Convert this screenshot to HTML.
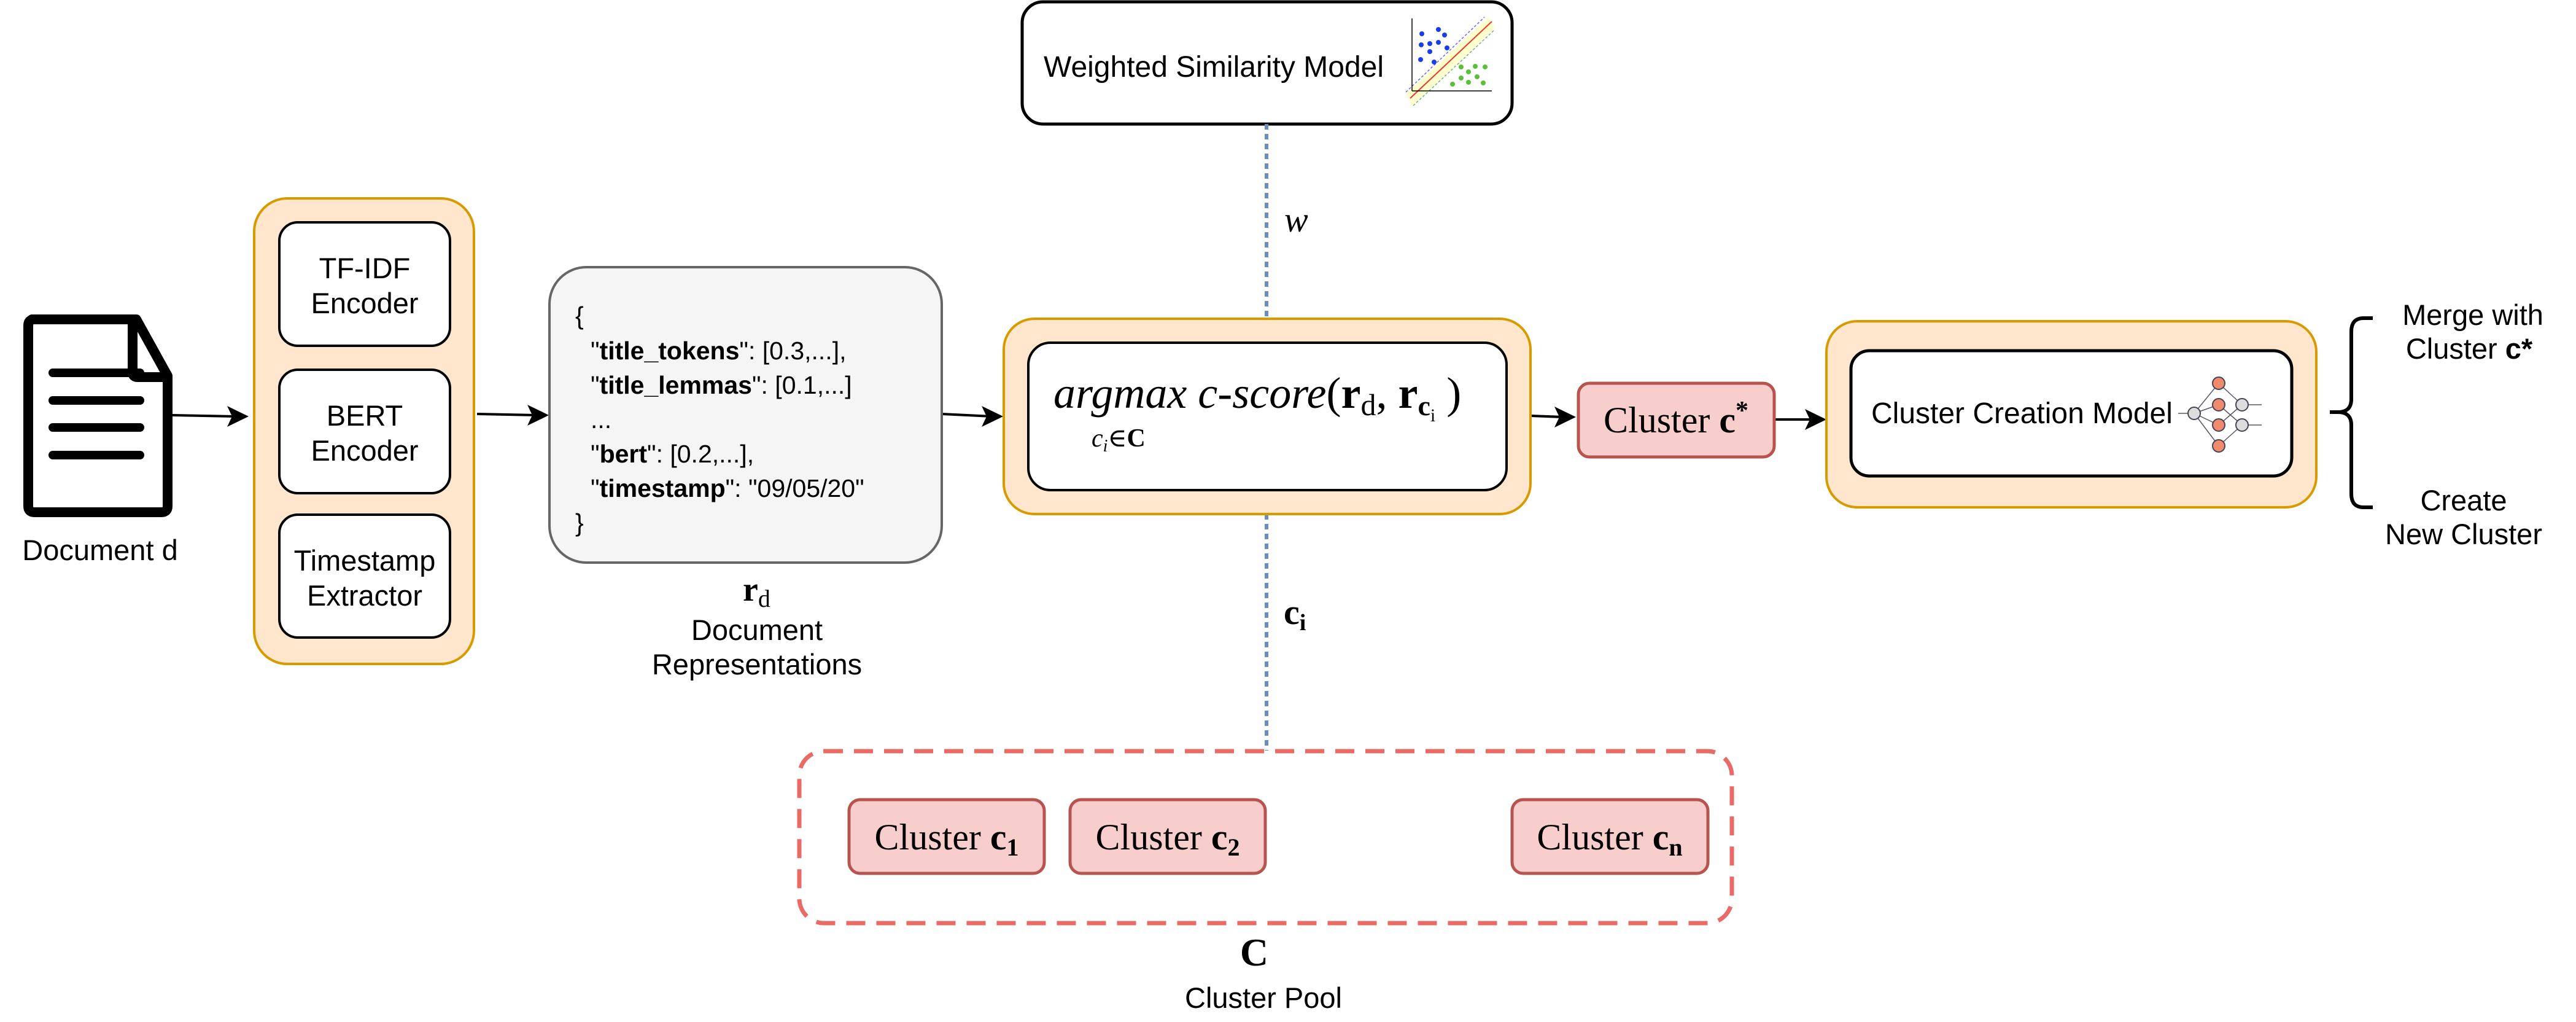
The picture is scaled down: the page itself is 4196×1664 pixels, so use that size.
<!DOCTYPE html>
<html><head><meta charset="utf-8"><style>
html,body{margin:0;padding:0;background:#fff}
svg{display:block}
.s{font-family:"Liberation Sans",Arial,sans-serif;fill:#000}
.m{font-family:"Liberation Serif","DejaVu Serif",serif;fill:#000}
</style></head><body>
<svg width="4196" height="1664" viewBox="0 0 4196 1664" xmlns="http://www.w3.org/2000/svg">
<!-- Document icon -->
<path d="M52,520 H222 L273,612 V824 Q273,834 263,834 H56 Q46,834 46,824 V530 Q46,520 56,520 Z" fill="#fff" stroke="#000" stroke-width="16" stroke-linejoin="round"/>
<path d="M216,522 V606 Q216,614 224,614 H272" fill="none" stroke="#000" stroke-width="16"/>
<g stroke="#000" stroke-width="14" stroke-linecap="round">
<line x1="86" y1="607" x2="228" y2="607"/><line x1="86" y1="652" x2="228" y2="652"/>
<line x1="86" y1="696" x2="228" y2="696"/><line x1="86" y1="741" x2="228" y2="741"/>
</g>
<text class="s" x="163" y="912" font-size="47" text-anchor="middle">Document d</text>

<!-- arrows -->
<g stroke="#000" stroke-width="4" fill="none">
<line x1="281" y1="676" x2="385" y2="678"/>
<line x1="777" y1="674" x2="875" y2="676"/>
<line x1="1534" y1="674" x2="1616" y2="678"/>
<line x1="2493" y1="677" x2="2546" y2="679"/>
<line x1="2890" y1="683" x2="2957" y2="683"/>
</g>
<g fill="#000">
<path d="M405,678 L370,661 L378,678 L370,695 Z"/>
<path d="M894,676 L859,659 L867,676 L859,693 Z"/>
<path d="M1634,678 L1599,661 L1607,678 L1599,695 Z"/>
<path d="M2567,679 L2532,662 L2540,679 L2532,696 Z"/>
<path d="M2975,683 L2940,666 L2948,683 L2940,700 Z"/>
</g>

<!-- Encoders orange box -->
<rect x="414" y="323" width="358" height="758" rx="54" fill="#ffe6cc" stroke="#d79b00" stroke-width="4"/>
<rect x="455" y="362" width="278" height="201" rx="30" fill="#fff" stroke="#000" stroke-width="4"/>
<rect x="455" y="602" width="278" height="201" rx="30" fill="#fff" stroke="#000" stroke-width="4"/>
<rect x="455" y="838" width="278" height="200" rx="30" fill="#fff" stroke="#000" stroke-width="4"/>
<g class="s" font-size="47" text-anchor="middle">
<text x="594" y="453">TF-IDF</text><text x="594" y="510">Encoder</text>
<text x="594" y="693">BERT</text><text x="594" y="750">Encoder</text>
<text x="594" y="929">Timestamp</text><text x="594" y="986">Extractor</text>
</g>

<!-- JSON box -->
<rect x="895" y="435" width="639" height="481" rx="60" fill="#f5f5f5" stroke="#666" stroke-width="4"/>
<g class="s" font-size="41" fill="#333">
<text x="937" y="528">{</text>
<text x="962" y="585">"<tspan font-weight="bold">title_tokens</tspan>": [0.3,...],</text>
<text x="962" y="641">"<tspan font-weight="bold">title_lemmas</tspan>": [0.1,...]</text>
<text x="962" y="697">...</text>
<text x="962" y="753">"<tspan font-weight="bold">bert</tspan>": [0.2,...],</text>
<text x="962" y="809">"<tspan font-weight="bold">timestamp</tspan>": "09/05/20"</text>
<text x="937" y="865">}</text>
</g>
<text class="m" x="1210" y="978" font-size="56" font-weight="bold">r<tspan font-size="40" font-weight="normal" dy="10">d</tspan></text>
<text class="s" x="1233" y="1042" font-size="47" text-anchor="middle">Document</text>
<text class="s" x="1233" y="1098" font-size="47" text-anchor="middle">Representations</text>

<!-- Weighted similarity model -->
<rect x="1665" y="3" width="798" height="199" rx="34" fill="#fff" stroke="#000" stroke-width="5"/>
<text class="s" x="1700" y="125" font-size="48">Weighted Similarity Model</text>
<g>
<polygon points="2290,152 2300,172 2435,45 2425,28" fill="#ffffcc"/>
<line x1="2297" y1="160" x2="2430" y2="35" stroke="#e33" stroke-width="2"/>
<line x1="2290" y1="150" x2="2418" y2="28" stroke="#66f" stroke-width="1.5" stroke-dasharray="4,3"/>
<line x1="2302" y1="172" x2="2435" y2="48" stroke="#6b6" stroke-width="1.5" stroke-dasharray="4,3"/>
<line x1="2300" y1="148" x2="2430" y2="148" stroke="#000" stroke-width="1.5"/>
<line x1="2300" y1="148" x2="2300" y2="30" stroke="#000" stroke-width="1.5"/>
<g fill="#1a3cf0"><circle cx="2316" cy="55" r="4"/><circle cx="2343" cy="48" r="4"/><circle cx="2353" cy="57" r="4"/><circle cx="2315" cy="73" r="4"/><circle cx="2329" cy="71" r="4"/><circle cx="2343" cy="69" r="4"/><circle cx="2329" cy="84" r="4"/><circle cx="2314" cy="97" r="4"/><circle cx="2336" cy="101" r="4"/><circle cx="2357" cy="78" r="4"/></g>
<g fill="#5bbf3a"><circle cx="2380" cy="109" r="4"/><circle cx="2403" cy="108" r="4"/><circle cx="2419" cy="109" r="4"/><circle cx="2392" cy="117" r="4"/><circle cx="2406" cy="125" r="4"/><circle cx="2380" cy="127" r="4"/><circle cx="2392" cy="134" r="4"/><circle cx="2366" cy="137" r="4"/><circle cx="2416" cy="135" r="4"/></g>
</g>

<!-- dotted connectors -->
<line x1="2063" y1="202" x2="2063" y2="518" stroke="#6c8ebf" stroke-width="6" stroke-dasharray="9,7"/>
<line x1="2063" y1="837" x2="2063" y2="1222" stroke="#6c8ebf" stroke-width="6" stroke-dasharray="9,7"/>
<text class="m" x="2092" y="377" font-size="58" font-style="italic">w</text>
<text class="m" x="2091" y="1016" font-size="58" font-weight="bold">c<tspan font-size="38" dy="10">i</tspan></text>

<!-- argmax box -->
<rect x="1635" y="519" width="858" height="318" rx="50" fill="#ffe6cc" stroke="#d79b00" stroke-width="4"/>
<rect x="1675" y="558" width="779" height="240" rx="36" fill="#fff" stroke="#000" stroke-width="4"/>
<text class="m" x="1716" y="664" font-size="72"><tspan font-style="italic">argmax c-score</tspan>(<tspan font-weight="bold">r</tspan><tspan font-size="50" dy="12">d</tspan><tspan dy="-12">, </tspan><tspan font-weight="bold">r</tspan><tspan font-size="46" dy="12" font-weight="bold">c</tspan><tspan font-size="30" dy="10">i</tspan><tspan dy="-22"> )</tspan></text>
<text class="m" x="1778" y="727" font-size="42"><tspan font-style="italic">c</tspan><tspan font-size="28" font-style="italic" dy="8">i</tspan><tspan dy="-8">∈</tspan><tspan font-weight="bold">C</tspan></text>

<!-- Cluster c* -->
<rect x="2571" y="624" width="319" height="120" rx="18" fill="#f8cecc" stroke="#b85450" stroke-width="5"/>
<text class="m" x="2730" y="704" font-size="60" text-anchor="middle">Cluster <tspan font-weight="bold">c</tspan><tspan font-size="42" font-weight="bold" dy="-22">*</tspan></text>

<!-- Cluster creation model -->
<rect x="2975" y="523" width="798" height="303" rx="50" fill="#ffe6cc" stroke="#d79b00" stroke-width="4"/>
<rect x="3015" y="571" width="718" height="204" rx="30" fill="#fff" stroke="#000" stroke-width="5"/>
<text class="s" x="3048" y="689" font-size="48">Cluster Creation Model</text>
<g stroke="#556" stroke-width="1.5" fill="none">
<line x1="3574" y1="673" x2="3614" y2="624"/><line x1="3574" y1="673" x2="3614" y2="659"/><line x1="3574" y1="673" x2="3614" y2="692"/><line x1="3574" y1="673" x2="3614" y2="726"/>
<line x1="3614" y1="624" x2="3652" y2="659"/><line x1="3614" y1="659" x2="3652" y2="692"/><line x1="3614" y1="692" x2="3652" y2="659"/><line x1="3614" y1="726" x2="3652" y2="692"/>
<line x1="3548" y1="673" x2="3564" y2="673"/><line x1="3662" y1="659" x2="3684" y2="659"/><line x1="3662" y1="692" x2="3684" y2="692"/>
</g>
<g stroke="#445" stroke-width="2">
<circle cx="3574" cy="673" r="10" fill="#ddd"/>
<circle cx="3614" cy="624" r="10" fill="#ef8a6d"/><circle cx="3614" cy="659" r="10" fill="#ef8a6d"/>
<circle cx="3614" cy="692" r="10" fill="#ef8a6d"/><circle cx="3614" cy="726" r="10" fill="#ef8a6d"/>
<circle cx="3652" cy="659" r="10" fill="#ddd"/><circle cx="3652" cy="692" r="10" fill="#ddd"/>
</g>

<!-- Brace -->
<path d="M3865,518 H3850 Q3830,518 3830,540 V650 Q3830,671 3808,671 H3795 M3808,671 Q3830,671 3830,692 V804 Q3830,826 3850,826 H3865" fill="none" stroke="#000" stroke-width="6"/>
<g class="s" font-size="47" text-anchor="middle">
<text x="4028" y="529">Merge with</text>
<text x="4022" y="584">Cluster <tspan font-weight="bold">c*</tspan></text>
<text x="4013" y="831">Create</text>
<text x="4013" y="886">New Cluster</text>
</g>

<!-- Cluster pool -->
<rect x="1302" y="1223" width="1519" height="280" rx="40" fill="none" stroke="#ea6b66" stroke-width="7" stroke-dasharray="31,18"/>
<g fill="#f8cecc" stroke="#b85450" stroke-width="5">
<rect x="1383" y="1302" width="318" height="120" rx="18"/>
<rect x="1743" y="1302" width="318" height="120" rx="18"/>
<rect x="2463" y="1302" width="319" height="120" rx="18"/>
</g>
<g class="m" font-size="60" text-anchor="middle">
<text x="1542" y="1383">Cluster <tspan font-weight="bold">c</tspan><tspan font-size="40" font-weight="bold" dy="10">1</tspan></text>
<text x="1902" y="1383">Cluster <tspan font-weight="bold">c</tspan><tspan font-size="40" font-weight="bold" dy="10">2</tspan></text>
<text x="2622" y="1383">Cluster <tspan font-weight="bold">c</tspan><tspan font-size="40" font-weight="bold" dy="10">n</tspan></text>
</g>
<text class="m" x="2043" y="1572" font-size="64" font-weight="bold" text-anchor="middle">C</text>
<text class="s" x="2058" y="1641" font-size="47" text-anchor="middle">Cluster Pool</text>
</svg>
</body></html>
